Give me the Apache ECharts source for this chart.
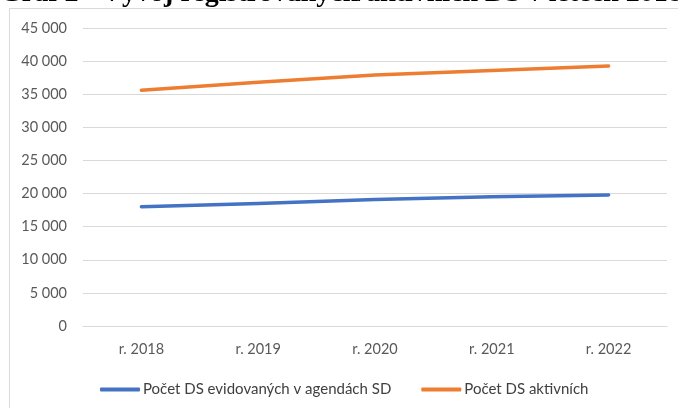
<!DOCTYPE html>
<html>
<head>
<meta charset="utf-8">
<script src="https://cdn.jsdelivr.net/npm/echarts@6/dist/echarts.min.js"></script>
<style>
  html, body { margin: 0; padding: 0; background: #fff; }
  #chart { width: 678px; height: 408px; }
</style>
</head>
<body>
<div id="chart"></div>
<script>
// kategorie a hodnoty
const years = ['r. 2018', 'r. 2019', 'r. 2020', 'r. 2021', 'r. 2022'];
const evidovane = [18000, 18500, 19100, 19500, 19800];
const aktivni = [35600, 36800, 37900, 38600, 39250];
const seriesNames = ['Počet DS evidovaných v agendách SD', 'Počet DS aktivních'];
const titleText = 'Graf 2 - Vývoj registrovaných/aktivních DS v letech 2018–2022';

const chart = echarts.init(document.getElementById('chart'));

// mezera jako oddělovač tisíců
function fmt(v) {
  return String(v).replace(/\B(?=(\d{3})+(?!\d))/g, ' ');
}

const labelFont = {color: '#595959', fontSize: 14.5, fontFamily: 'Lato'};

chart.setOption({
  backgroundColor: '#fff',
  animation: false,
  graphic: [
    {
      type: 'rect',
      shape: {x: 9.5, y: 8.5, width: 720, height: 440},
      style: {fill: 'none', stroke: '#d9d9d9', lineWidth: 1}
    },
    {
      type: 'text',
      left: 0,
      top: -20,
      style: {
        text: titleText,
        fill: '#000',
        font: 'bold 28px "Liberation Serif"'
      }
    }
  ],
  grid: {left: 83, right: 11, top: 28, bottom: 82},
  legend: {
    left: 95,
    top: 377,
    itemWidth: 40,
    itemHeight: 4,
    itemGap: 30,
    icon: 'roundRect',
    textStyle: {color: '#404040', fontSize: 15, fontFamily: 'Lato', padding: [0, 0, 0, -2]},
    data: seriesNames
  },
  xAxis: {
    type: 'category',
    data: years,
    boundaryGap: true,
    axisLine: {lineStyle: {color: '#d9d9d9'}},
    axisTick: {show: false},
    axisLabel: Object.assign({margin: 16}, labelFont)
  },
  yAxis: {
    type: 'value',
    min: 0,
    max: 45000,
    interval: 5000,
    axisLine: {show: false},
    axisTick: {show: false},
    splitLine: {lineStyle: {color: '#d9d9d9', width: 1}},
    axisLabel: Object.assign({margin: 16, formatter: fmt}, labelFont)
  },
  series: [
    {
      name: seriesNames[0],
      type: 'line',
      data: evidovane,
      showSymbol: false,
      color: '#4472C4',
      lineStyle: {width: 3.5, cap: 'round', join: 'round'}
    },
    {
      name: seriesNames[1],
      type: 'line',
      data: aktivni,
      showSymbol: false,
      color: '#ED7D31',
      lineStyle: {width: 3.5, cap: 'round', join: 'round'}
    }
  ]
});
</script>
</body>
</html>
